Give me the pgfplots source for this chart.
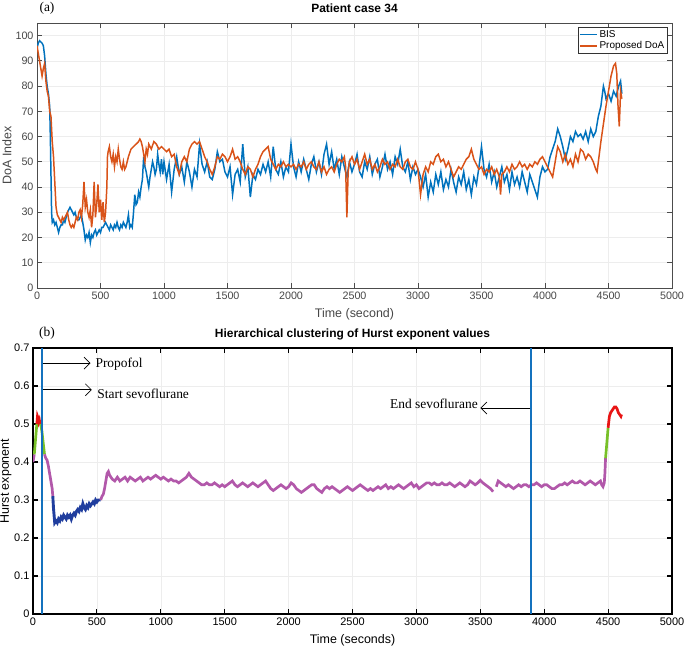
\documentclass[border=0pt]{standalone}
\usepackage{pgfplots}
\pgfplotsset{compat=1.18}
\usepackage{fontspec}
\setmainfont{Liberation Sans}
\newfontfamily\serifA{Liberation Serif}
\usetikzlibrary{arrows.meta}
\definecolor{bisblue}{rgb}{0,0.447,0.741}
\definecolor{doaorange}{rgb}{0.85,0.325,0.098}
\definecolor{hpurple}{RGB}{178,88,170}
\definecolor{hblue}{RGB}{32,62,158}
\definecolor{hgreen}{RGB}{120,192,40}
\definecolor{hred}{RGB}{232,20,20}
\definecolor{vline}{RGB}{20,114,190}
\pgfplotstableread{
t h
3900 0
3900 0.7
}\endsevo
\pgfplotstableread{
t h
70 0
70 0.7
}\startsevo
\begin{document}
\begin{tikzpicture}[x=1bp,y=1bp]
\path[use as bounding box] (0,0) rectangle (685,650);
% ---------------- (a) ----------------
\begin{axis}[
  at={(37bp,362bp)}, anchor=south west,
  scale only axis, width=635bp, height=265bp,
  xmin=0, xmax=5000, ymin=0, ymax=105,
  xtick={0,500,...,5000}, ytick={0,10,...,100},
  scaled ticks=false,
  /pgf/number format/1000 sep={},
  /pgf/number format/assume math mode=true,
  tick align=inside, major tick length=5bp,
  ticklabel style={font=\fontsize{10.8}{13}\selectfont, text=black!72},
  axis line style={black!70, line width=0.9pt},
  tick style={black!70, line width=0.9pt},
  grid=major, major grid style={black!7, line width=0.6pt},
  xlabel={Time (second)}, ylabel={DoA Index},
  label style={font=\fontsize{12.5}{14}\selectfont, text=black!72},
  xlabel style={at={(axis description cs:0.5,0)}, anchor=base, yshift=-30bp},
  ylabel style={at={(axis description cs:0,0.5)}, anchor=center, yshift=30bp},
  title={Patient case 34},
  title style={font=\bfseries\fontsize{12}{14}\selectfont, at={(axis description cs:0.5,1)}, anchor=base, yshift=4.5bp},
  legend style={at={(0.993,0.985)}, anchor=north east, draw=black!80,
    font=\fontsize{10}{12}\selectfont, inner sep=1pt, row sep=-1pt,
    cells={anchor=west}},
  legend image post style={line width=1.4pt},
]
\addplot[bisblue, line width=1.5pt] coordinates {
(0,95)(10,97)(20,98)(40,97)(50,96)(60,92)(70,85)(80,80)(90,77)(100,72)(105,60)(110,45)(115,30)(120,26)(130,27)(140,25)(150,26)(160,24)(170,22)(180,24)(190,25)(200,25)(210,27)(220,26)(230,28)(240,30)(250,31)(260,32)(270,31)(280,30)(290,29)(300,30)(310,28)(320,27)(330,27)(340,28)(350,29)(360,26)(370,23)(380,19)(390,21)(400,20)(410,22)(420,18)(430,21)(440,20)(450,22)(460,23)(470,21)(480,22)(490,23)(500,22)(510,24)(520,24)(530,25)(540,26)(550,25)(560,24)(570,23)(580,25)(590,24)(600,23)(610,25)(620,24)(630,26)(640,24)(650,23)(660,25)(670,24)(680,26)(690,25)(700,24)(710,26)(720,29)(730,24)(740,25)(750,24)(760,30)(770,37)(780,33)(790,34)(800,38)(810,36)(820,40)(830,43)(840,52)(850,48)(860,46)(870,43)(880,40)(890,44)(900,47)(910,50)(920,48)(930,45)(940,47)(950,53)(960,49)(970,46)(980,51)(990,45)(1000,50)
(1020,43)(1040,49)(1060,38)(1080,47)(1100,52)(1120,45)(1140,48)(1160,42)(1180,50)(1200,46)(1220,40)(1240,47)(1260,44)(1280,57)(1300,49)(1320,46)(1340,50)(1360,44)(1380,43)(1400,47)(1420,54)(1440,50)(1460,51)(1480,46)(1500,44)(1520,48)(1540,37)(1560,45)(1580,47)(1600,42)(1620,57)(1640,44)(1660,48)(1680,36)(1700,45)(1720,43)(1740,47)(1760,45)(1780,49)(1800,46)(1820,50)(1840,44)(1860,56)(1880,47)(1900,45)(1920,50)(1940,44)(1960,48)(1980,46)(2000,57)
(2020,48)(2040,44)(2060,50)(2080,46)(2100,51)(2120,47)(2140,43)(2160,49)(2180,52)(2200,46)(2220,50)(2240,45)(2260,53)(2280,57)(2300,49)(2320,54)(2340,47)(2360,51)(2380,45)(2400,52)(2420,48)(2440,44)(2460,50)(2480,46)(2500,49)(2520,53)(2540,46)(2560,44)(2580,50)(2600,47)(2620,52)(2640,45)(2660,49)(2680,51)(2700,44)(2720,48)(2740,53)(2760,47)(2780,50)(2800,45)(2820,52)(2840,49)(2860,55)(2880,48)(2900,46)(2920,50)(2940,43)(2960,48)(2980,45)(3000,47)
(3020,44)(3040,40)(3060,45)(3080,36)(3100,42)(3120,38)(3140,45)(3160,41)(3180,46)(3200,39)(3220,43)(3240,40)(3260,47)(3280,42)(3300,38)(3320,44)(3340,41)(3360,46)(3380,39)(3400,43)(3420,37)(3440,44)(3460,41)(3480,48)(3500,56)(3520,47)(3540,44)(3560,49)(3580,42)(3600,46)(3620,40)(3640,44)(3660,48)(3680,42)(3700,45)(3720,39)(3740,46)(3760,41)(3780,44)(3800,40)(3820,46)(3840,42)(3860,38)(3880,45)(3900,42)(3920,39)(3940,36)(3960,44)(3980,48)(4000,46)
(4020,47)(4040,52)(4060,55)(4080,58)(4100,63)(4120,60)(4140,56)(4160,51)(4180,55)(4200,60)(4220,58)(4240,62)(4260,60)(4280,61)(4300,59)(4320,62)(4340,58)(4360,63)(4380,60)(4400,62)(4420,68)(4440,72)(4460,80)(4470,78)(4480,75)(4500,77)(4520,74)(4540,78)(4560,76)(4580,80)(4595,82)(4605,77)
};
\addlegendentry{BIS}
\addplot[doaorange, line width=1.5pt] coordinates {
(0,96)(10,93)(20,90)(30,87)(40,84)(50,87)(60,89)(70,82)(80,78)(90,76)(100,70)(110,68)(120,58)(130,52)(140,42)(150,32)(160,29)(170,28)(180,27)(190,26)(200,28)(210,27)(220,28)(230,29)(240,30)(250,27)(260,25)(270,24)(280,25)(290,24)(300,26)(310,28)(320,27)(330,30)(340,31)(350,28)(360,33)(370,42)(380,32)(390,35)(400,30)(410,28)(420,31)(430,24)(440,29)(450,42)(460,28)(470,33)(480,41)(490,30)(500,35)(510,27)(520,34)(530,26)(540,30)(550,40)(555,52)(560,54)(570,56)(580,52)(590,50)(600,53)(610,48)(620,52)(630,50)(640,55)(650,51)(660,48)(670,47)(680,50)(690,47)(700,48)(720,52)(740,55)(760,56)(780,57)(800,58)(810,59)(820,58)(830,56)(840,53)(850,50)(860,55)(870,53)(880,57)(900,55)(920,58)(940,57)(960,55)(980,56)(1000,55)
(1020,54)(1040,55)(1060,52)(1080,53)(1100,48)(1120,45)(1140,50)(1160,52)(1180,50)(1200,55)(1220,57)(1240,58)(1260,57)(1280,58)(1300,55)(1320,52)(1340,50)(1360,47)(1380,45)(1400,48)(1420,52)(1440,51)(1460,53)(1480,52)(1500,50)(1520,52)(1540,55)(1560,51)(1580,52)(1600,50)(1620,47)(1640,45)(1660,48)(1680,47)(1700,44)(1720,47)(1740,49)(1760,52)(1780,54)(1800,55)(1820,56)(1840,51)(1860,49)(1880,47)(1900,49)(1920,48)(1940,50)(1960,48)(1980,49)(2000,48)
(2020,49)(2040,47)(2060,49)(2080,48)(2100,50)(2120,47)(2140,49)(2160,50)(2180,48)(2200,47)(2220,50)(2240,46)(2260,48)(2280,45)(2300,47)(2320,48)(2340,46)(2360,49)(2380,51)(2400,50)(2420,52)(2430,48)(2440,28)(2450,46)(2460,50)(2480,52)(2500,49)(2520,51)(2540,47)(2560,50)(2580,53)(2600,49)(2620,51)(2640,47)(2660,49)(2680,46)(2700,48)(2720,51)(2740,49)(2760,50)(2780,47)(2800,49)(2820,48)(2840,51)(2860,48)(2880,47)(2900,50)(2920,51)(2940,48)(2960,47)(2980,50)(3000,47)
(3020,37)(3040,45)(3060,48)(3080,46)(3100,50)(3120,49)(3140,52)(3160,53)(3180,50)(3200,51)(3220,48)(3240,50)(3260,47)(3280,44)(3300,46)(3320,48)(3340,47)(3360,49)(3380,51)(3400,52)(3420,55)(3440,51)(3460,49)(3480,47)(3500,48)(3520,45)(3540,47)(3560,46)(3580,48)(3600,45)(3620,47)(3640,44)(3650,37)(3660,45)(3680,46)(3700,48)(3720,46)(3740,49)(3760,47)(3780,48)(3800,50)(3820,48)(3840,49)(3860,47)(3880,49)(3900,48)(3920,50)(3940,49)(3960,51)(3980,52)(4000,50)
(4020,48)(4040,46)(4060,44)(4080,50)(4100,56)(4120,54)(4140,50)(4160,53)(4180,49)(4200,51)(4220,48)(4240,53)(4260,50)(4280,55)(4300,54)(4320,51)(4340,53)(4360,52)(4380,50)(4400,47)(4410,46)(4420,50)(4440,58)(4460,65)(4480,72)(4500,78)(4520,84)(4540,88)(4555,89)(4565,85)(4575,72)(4585,64)(4595,78)(4605,75)
};
\addlegendentry{Proposed DoA}
\end{axis}
\node[font=\serifA\fontsize{13.5}{15}\selectfont, anchor=center] at (47,642) {(a)};
% ---------------- (b) ----------------
\begin{axis}[
  at={(33bp,36bp)}, anchor=south west,
  scale only axis, width=639bp, height=266bp,
  xmin=0, xmax=5000, ymin=0, ymax=0.7,
  xtick={0,500,...,5000}, ytick={0,0.1,...,0.7},
  scaled ticks=false,
  /pgf/number format/1000 sep={},
  /pgf/number format/assume math mode=true,
  tick align=inside, major tick length=5bp,
  ticklabel style={font=\fontsize{11}{13}\selectfont, text=black},
  axis line style={black, line width=1.2pt},
  tick style={black, line width=1.2pt},
  grid=major, major grid style={black!7, line width=0.6pt},
  xlabel={Time (seconds)}, ylabel={Hurst exponent},
  label style={font=\fontsize{12.5}{14}\selectfont},
  xlabel style={at={(axis description cs:0.5,0)}, anchor=base, yshift=-29bp},
  ylabel style={at={(axis description cs:0,0.5)}, anchor=center, yshift=27bp},
  title={Hierarchical clustering of Hurst exponent values},
  title style={font=\bfseries\fontsize{12}{14}\selectfont, at={(axis description cs:0.5,1)}, anchor=base, yshift=4.5bp},
]
\addplot[hpurple, line width=2.7pt] coordinates {(0,0.40)(5,0.41)(10,0.42)};
\addplot[hgreen, line width=2.7pt] coordinates {(10,0.42)(15,0.44)(20,0.46)(25,0.48)(30,0.50)};
\addplot[hred, line width=2.7pt] coordinates {(30,0.50)(35,0.52)(40,0.515)(45,0.505)(50,0.51)(55,0.50)(60,0.50)};
\addplot[hgreen, line width=2.7pt] coordinates {(60,0.50)(70,0.48)(80,0.45)(90,0.42)};
\addplot[hpurple, line width=2.7pt] coordinates {(90,0.42)(100,0.41)(110,0.405)(120,0.39)(130,0.37)(140,0.35)(150,0.33)(155,0.31)};
\addplot[hblue, line width=2.9pt] coordinates {(155,0.31)(160,0.28)(165,0.26)(170,0.24)(180,0.245)(190,0.24)(200,0.25)(210,0.245)(220,0.255)(230,0.25)(240,0.26)(250,0.255)(260,0.25)(270,0.26)(280,0.255)(290,0.26)(300,0.25)(310,0.26)(320,0.265)(330,0.26)(340,0.27)(350,0.275)(360,0.27)(370,0.28)(380,0.275)(390,0.29)(400,0.28)(410,0.275)(420,0.285)(430,0.28)(440,0.29)(450,0.285)(460,0.29)(470,0.295)(480,0.29)(490,0.30)(500,0.295)(510,0.30)(520,0.30)(530,0.30)};
\addplot[hpurple, line width=2.7pt] coordinates {(530,0.30)(540,0.31)(550,0.315)(560,0.33)(570,0.35)(580,0.37)(590,0.375)(600,0.365)(620,0.355)(640,0.35)(660,0.36)(680,0.35)(700,0.355)(720,0.36)(740,0.35)(760,0.36)(780,0.355)(800,0.35)(820,0.355)(840,0.36)(860,0.35)(880,0.355)(900,0.36)(920,0.355)(940,0.36)(960,0.365)(980,0.36)(1000,0.355)(1020,0.36)(1040,0.355)(1060,0.35)(1080,0.355)(1100,0.35)(1120,0.35)(1140,0.345)(1160,0.35)(1180,0.355)(1200,0.36)(1220,0.37)(1240,0.36)(1260,0.355)(1280,0.35)(1300,0.345)(1320,0.34)(1340,0.34)(1360,0.345)(1380,0.34)(1400,0.34)(1420,0.345)(1440,0.34)(1460,0.335)(1480,0.34)(1500,0.335)(1520,0.34)(1540,0.345)(1560,0.35)(1580,0.34)(1600,0.335)(1620,0.34)(1640,0.345)(1660,0.34)(1680,0.335)(1700,0.34)(1720,0.345)(1740,0.34)(1760,0.335)(1780,0.34)(1800,0.345)(1820,0.35)(1840,0.34)(1860,0.33)(1880,0.325)(1900,0.33)(1920,0.335)(1940,0.34)(1960,0.335)(1980,0.33)(2000,0.335)(2020,0.345)(2040,0.34)(2060,0.33)(2080,0.325)(2100,0.32)(2120,0.325)(2140,0.33)(2160,0.335)(2180,0.34)(2200,0.34)(2220,0.33)(2240,0.325)(2260,0.32)(2280,0.33)(2300,0.335)(2320,0.33)(2340,0.335)(2360,0.33)(2380,0.325)(2400,0.32)(2420,0.325)(2440,0.33)(2460,0.335)(2480,0.33)(2500,0.325)(2520,0.33)(2540,0.335)(2560,0.34)(2580,0.335)(2600,0.33)(2620,0.325)(2640,0.33)(2660,0.325)(2680,0.33)(2700,0.335)(2720,0.33)(2740,0.335)(2760,0.34)(2780,0.33)(2800,0.335)(2820,0.33)(2840,0.335)(2860,0.34)(2880,0.335)(2900,0.33)(2920,0.335)(2940,0.34)(2960,0.345)(2980,0.335)(3000,0.34)(3020,0.33)(3040,0.335)(3060,0.34)(3080,0.345)(3100,0.345)(3120,0.34)(3140,0.345)(3160,0.34)(3180,0.34)(3200,0.345)(3220,0.34)(3240,0.34)(3260,0.345)(3280,0.34)(3300,0.335)(3320,0.34)(3340,0.345)(3360,0.34)(3380,0.335)(3400,0.34)(3420,0.35)(3440,0.345)(3460,0.34)(3480,0.345)(3500,0.352)(3520,0.345)(3540,0.34)(3560,0.335)(3580,0.33)(3600,0.322)};
\addplot[hpurple, line width=2.7pt] coordinates {(3625,0.335)(3640,0.35)(3660,0.345)(3680,0.34)(3700,0.335)(3720,0.34)(3740,0.335)(3760,0.33)(3780,0.335)(3800,0.34)(3820,0.335)(3840,0.34)(3860,0.34)(3880,0.335)(3900,0.34)(3920,0.34)(3940,0.345)(3960,0.34)(3980,0.335)(4000,0.34)(4020,0.34)(4040,0.335)(4060,0.33)(4080,0.33)(4100,0.335)(4120,0.34)(4140,0.34)(4160,0.345)(4180,0.34)(4200,0.345)(4220,0.35)(4240,0.345)(4260,0.345)(4280,0.35)(4300,0.345)(4320,0.34)(4340,0.345)(4360,0.35)(4380,0.345)(4400,0.34)(4420,0.345)(4440,0.35)(4450,0.34)(4460,0.335)(4470,0.345)(4475,0.37)(4480,0.41)};
\addplot[hgreen, line width=2.7pt] coordinates {(4480,0.41)(4485,0.43)(4490,0.45)(4495,0.47)(4500,0.49)};
\addplot[hred, line width=2.7pt] coordinates {(4500,0.49)(4505,0.505)(4510,0.52)(4520,0.53)(4530,0.535)(4540,0.54)(4550,0.545)(4560,0.545)(4570,0.54)(4580,0.53)(4590,0.525)(4600,0.52)(4605,0.525)};
% vertical markers on top of the trace
\addplot[draw=vline, line width=1.9pt, mark=none] table[x=t,y=h] {\startsevo};
\addplot[draw=vline, line width=1.9pt, mark=none] table[x=t,y=h] {\endsevo};
% arrows and notes
\draw[line width=0.7pt, -{Straight Barb[length=6bp,width=12bp]}] (axis cs:75,0.66) -- (axis cs:450,0.66);
\draw[line width=0.7pt, -{Straight Barb[length=6bp,width=12bp]}] (axis cs:75,0.59) -- (axis cs:460,0.59);
\draw[line width=0.7pt, -{Straight Barb[length=6bp,width=12bp]}] (axis cs:3890,0.542) -- (axis cs:3500,0.542);
\node[font=\serifA\fontsize{13.5}{15}\selectfont, anchor=west, inner sep=1pt] at (axis cs:480,0.658) {Propofol};
\node[font=\serifA\fontsize{13.5}{15}\selectfont, anchor=west, inner sep=1pt] at (axis cs:495,0.58) {Start sevoflurane};
\node[font=\serifA\fontsize{13.5}{15}\selectfont, anchor=east, inner sep=1pt] at (axis cs:3490,0.552) {End sevoflurane};
\end{axis}
\node[font=\serifA\fontsize{13.5}{15}\selectfont, anchor=center] at (47,317) {(b)};
\end{tikzpicture}
\end{document}
